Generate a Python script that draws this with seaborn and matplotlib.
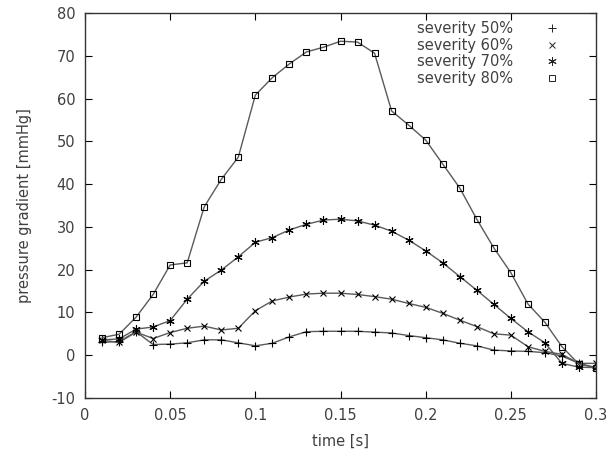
import matplotlib
matplotlib.use("Agg")
import matplotlib.pyplot as plt
from matplotlib.lines import Line2D
import seaborn as sns
import pandas as pd

# --- data ---
time_s = [0.01, 0.02, 0.03, 0.04, 0.05, 0.06, 0.07, 0.08, 0.09, 0.10,
          0.11, 0.12, 0.13, 0.14, 0.15, 0.16, 0.17, 0.18, 0.19, 0.20,
          0.21, 0.22, 0.23, 0.24, 0.25, 0.26, 0.27, 0.28, 0.29, 0.30]

sev50 = [3.0, 3.2, 5.5, 2.5, 2.6, 2.9, 3.6, 3.6, 2.9, 2.2,
         2.8, 4.3, 5.5, 5.6, 5.6, 5.6, 5.4, 5.2, 4.6, 4.1,
         3.6, 2.8, 2.2, 1.2, 1.0, 0.9, 0.6, -0.2, -1.9, -2.9]
sev60 = [3.5, 3.0, 5.4, 3.9, 5.3, 6.3, 6.8, 5.9, 6.3, 10.4,
         12.7, 13.6, 14.3, 14.5, 14.5, 14.2, 13.7, 13.1, 12.1, 11.2,
         9.8, 8.2, 6.7, 5.0, 4.7, 2.0, 0.9, 0.2, -1.9, -1.9]
sev70 = [3.6, 3.8, 6.1, 6.6, 8.1, 13.1, 17.3, 19.9, 23.0, 26.4,
         27.5, 29.3, 30.6, 31.6, 31.8, 31.4, 30.4, 29.0, 26.9, 24.4,
         21.6, 18.4, 15.2, 11.9, 8.6, 5.5, 2.9, -1.9, -2.8, -2.9]
sev80 = [4.1, 4.9, 8.9, 14.2, 21.1, 21.6, 34.7, 41.1, 46.3, 60.8,
         64.9, 68.1, 70.9, 72.0, 73.4, 73.2, 70.6, 57.1, 53.8, 50.3,
         44.7, 39.1, 31.8, 25.1, 19.3, 12.0, 7.7, 2.0, -2.1, -2.9]

labels = ["severity 50%", "severity 60%", "severity 70%", "severity 80%"]
series = [sev50, sev60, sev70, sev80]

x_ticks = [0, 0.05, 0.1, 0.15, 0.2, 0.25, 0.3]
x_ticklabels = ["0", "0.05", "0.1", "0.15", "0.2", "0.25", "0.3"]
y_ticks = [-10, 0, 10, 20, 30, 40, 50, 60, 70, 80]

# --- style ---
sns.set_theme(style="white")
plt.rcParams['font.family'] = ['DejaVu Sans']
plt.rcParams['axes.unicode_minus'] = False
TEXT = '#404040'

markers = ['+', 'x', (6, 2, 0), 's']
msizes = [6, 5, 6, 4.5]

fig = plt.figure(figsize=(6.10, 4.57), dpi=100)
ax = fig.add_axes([85 / 610, 1 - 398 / 457, 511 / 610, 385 / 457])

handles = []
for lab, vals, mk, ms in zip(labels, series, markers, msizes):
    df = pd.DataFrame({'t': time_s, 'p': vals})
    sns.lineplot(data=df, x='t', y='p', ax=ax, color='#5a5a5a', lw=1.0,
                 marker=mk, markersize=ms, markeredgecolor='black',
                 markerfacecolor='none', markeredgewidth=0.8, legend=False)
    handles.append(Line2D([], [], ls='none', marker=mk, markersize=ms,
                          markeredgecolor='#222222', markerfacecolor='none',
                          markeredgewidth=0.7))

ax.set_xlim(0, 0.3)
ax.set_ylim(-10, 80)
ax.set_xticks(x_ticks)
ax.set_xticklabels(x_ticklabels)
ax.set_yticks(y_ticks)
ax.tick_params(direction='in', length=5, width=0.8, colors='black',
               labelcolor=TEXT, labelsize=10.5, top=True, right=True,
               bottom=True, left=True, pad=7)
for s in ax.spines.values():
    s.set_color('#333333')
    s.set_linewidth(1.0)

ax.set_xlabel('time [s]', fontsize=10.5, color=TEXT, labelpad=8)
ax.set_ylabel('pressure gradient [mmHg]', fontsize=10.5, color=TEXT, labelpad=14)

leg = ax.legend(handles, labels, loc='upper right', markerfirst=False,
                frameon=False, fontsize=10.5, handlelength=1.5,
                handletextpad=1.9, labelspacing=0.1,
                bbox_to_anchor=(0.955, 1.005), borderaxespad=0.3)
for t in leg.get_texts():
    t.set_color(TEXT)

fig.savefig('out.png', dpi=100)
